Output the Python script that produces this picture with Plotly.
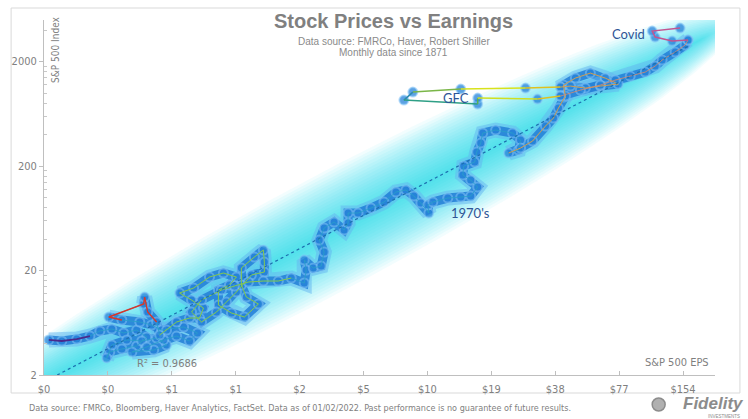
import numpy as np
import plotly.graph_objects as go

# ---------------- data ----------------
eps_1871_2007 = [0.158, 0.182, 0.214, 0.247, 0.275, 0.313, 0.356, 0.410, 0.457, 0.410,
                 0.349, 0.306, 0.296, 0.313, 0.368, 0.433, 0.509,
                 0.567, 0.493, 0.389, 0.457, 0.549, 0.632, 0.727, 0.793, 0.682,
                 0.537, 0.482, 0.424,
                 0.349, 0.303, 0.442, 0.447, 0.462, 0.509, 0.526, 0.567, 0.632, 0.727,
                 0.810, 0.846, 0.743, 0.653, 0.760, 0.903, 1.050, 1.209, 1.121, 0.995,
                 0.995, 1.146, 1.319, 1.534, 1.347, 1.276, 1.276, 1.469, 1.619, 1.637,
                 1.637, 1.422, 1.209, 1.085, 0.974, 0.828, 0.743, 0.828, 1.028, 1.183,
                 1.377, 1.619, 1.905, 2.192, 2.523, 2.578, 2.523, 2.781, 3.032, 3.132,
                 2.968, 3.132, 3.488, 3.888, 4.060, 4.060, 4.522, 5.207, 5.991, 6.822,
                 7.601, 8.286, 8.940, 9.748, 9.643, 10.18, 11.97, 13.78, 15.35, 16.56,
                 15.35, 14.08, 14.23, 16.03, 16.38, 17.11, 17.48, 20.12, 24.17, 26.36,
                 25.79, 23.15, 26.36, 30.02, 34.54, 37.66, 39.77, 42.89, 41.98, 47.77,
                 56.19, 66.09, 76.06, 62.60, 53.23, 45.27, 40.64]
price_1871_2007 = [4.33, 4.23, 4.42, 4.72, 5.28, 5.51, 5.05, 5.39, 4.62, 3.79,
                   3.55, 3.32, 2.91, 3.87, 4.33, 4.23, 4.52,
                   3.87, 3.47, 3.32, 3.71, 4.33, 4.72, 4.23, 5.05, 5.76,
                   5.39, 6.02, 6.43,
                   6.72, 7.18, 9.56, 11.15, 8.01, 6.43, 4.83, 5.39, 6.43, 7.02,
                   7.02, 8.75, 10.44, 12.18, 13.60, 17.33, 18.93, 17.33, 14.53, 13.02,
                   9.35, 7.84, 7.18, 9.56, 11.15, 14.53, 21.13, 26.93, 31.43, 24.12,
                   19.35, 18.11, 12.45, 9.99, 8.01, 6.43, 8.01, 10.44, 13.02, 14.21,
                   15.52, 15.87, 15.87, 16.95, 15.19, 20.22, 25.21, 21.13, 22.08, 30.07,
                   39.17, 51.04, 58.23, 48.84, 56.96, 71.00, 71.00, 79.27, 90.47, 112.8,
                   117.9, 103.3, 88.51, 71.00, 84.70, 90.47, 98.81, 101.0, 103.3, 125.9,
                   146.9, 164.0, 200.0, 218.5, 272.3, 332.0, 413.8, 442.1, 413.8, 354.6,
                   284.6, 266.4, 297.4, 347.0, 482.8, 576.0, 717.9, 935.1, 1192, 1390,
                   1552, 1390, 1218, 1166, 1115, 1166, 1140]

eps_gfc = [40.64, 27.82, 13.78, 8.197, 7.438, 16.56, 16.56, 31.68, 40.64]
price_gfc = [1140, 1115, 1091, 1021, 856.2, 784.0, 894.8, 875.3, 935.1]

eps_2010_2019 = [40.64, 50.43, 62.60, 73.63, 86.60, 101.9, 113.5, 122.4, 140.9, 157.0, 162.1]
price_2010_2019 = [935.1, 1067, 1192, 1330, 1453, 1587, 1811, 2068, 2466, 2877, 3213]

eps_covid = [162.1, 136.4, 113.5, 109.9, 148.7]
price_covid = [3213, 3143, 3432, 3917, 4184]

x_tick_vals = [0.15, 0.3, 0.6, 1.2, 2.4, 4.8, 9.6, 19.2, 38.4, 76.8, 153.6]
x_tick_text = ["$0", "$0", "$1", "$1", "$2", "$5", "$10", "$19", "$38", "$77", "$154"]
y_tick_vals = [2, 20, 200, 2000]
y_tick_text = ["2", "20", "200", "2000"]
y_minor_vals = [m * 10 ** n for n in range(0, 4) for m in (4, 6, 8, 10, 12, 14, 16, 18)]

trend_a = 12.8
trend_b = 1.059
trend_eps_span = [0.173, 166.0]
r_squared = 0.9686

x_range = [0.15, 217.2]
y_range = [2, 5000]

# ---------------- geometry / style ----------------
W, H = 748, 419
M_L, M_R, M_T, M_B = 42, 33, 20, 44
PLOT_W = W - M_L - M_R
PLOT_H = H - M_T - M_B
PX_DEC_X = PLOT_W / np.log10(x_range[1] / x_range[0])
PX_DEC_Y = PLOT_H / np.log10(y_range[1] / y_range[0])

GRAY = "#7f7f7f"
NARROW = "Liberation Sans Narrow, Arial Narrow, DejaVu Sans Condensed, sans-serif"
ARIAL = "Liberation Sans, Arial, sans-serif"
LABEL_FONT = "Lato, Open Sans, sans-serif"
LABEL_BLUE = "#2e5496"

fig = go.Figure()

# cyan glow band around the regression line
glow_span = [0.04, 287.0]
lo, hi = np.log10(glow_span)
cu, hu = (lo + hi) / 2, (hi - lo) / 2
N_LAYERS = 20
for i in range(N_LAYERS):
    s = 1 - i / N_LAYERS
    h = hu * (0.9 + 0.1 * s)
    u = np.linspace(cu - h, cu + h, 160)
    w = 0.62 * s * np.sqrt(np.clip(1 - ((u - cu) / h) ** 2, 0, None))
    e = 10 ** u
    ctr = trend_a * e ** trend_b
    xs = np.concatenate([e, e[::-1]])
    ys = np.concatenate([ctr * 10 ** w, (ctr / 10 ** w)[::-1]])
    fig.add_trace(go.Scatter(x=xs, y=ys, mode="lines", fill="toself",
                             fillcolor="rgba(0,215,240,0.05)", line=dict(width=0),
                             hoverinfo="skip", showlegend=False))


def with_breaks(eps, price, max_px=25):
    xs, ys = [eps[0]], [price[0]]
    for i in range(1, len(eps)):
        d = np.hypot(np.log10(eps[i] / eps[i - 1]) * PX_DEC_X,
                     np.log10(price[i] / price[i - 1]) * PX_DEC_Y)
        if d > max_px:
            xs.append(None)
            ys.append(None)
        xs.append(eps[i])
        ys.append(price[i])
    return xs, ys


HALO = "rgba(100,180,240,0.50)"
CORE = "rgba(34,126,214,0.85)"
MARK = "rgba(38,130,216,0.75)"

for ex, py in [(eps_1871_2007, price_1871_2007), (eps_2010_2019, price_2010_2019)]:
    bx, by = with_breaks(ex, py)
    fig.add_trace(go.Scatter(x=bx, y=by, mode="lines", line=dict(color=HALO, width=15),
                             hoverinfo="skip", showlegend=False))
    fig.add_trace(go.Scatter(x=bx, y=by, mode="lines", line=dict(color=CORE, width=9),
                             hoverinfo="skip", showlegend=False))


def thin(ex, py, i0, i1, color, width=1.3):
    fig.add_trace(go.Scatter(x=ex[i0:i1 + 1], y=py[i0:i1 + 1], mode="lines",
                             line=dict(color=color, width=width),
                             hoverinfo="skip", showlegend=False))


# markers on all series
for ex, py in [(eps_1871_2007, price_1871_2007), (eps_gfc, price_gfc),
               (eps_2010_2019, price_2010_2019), (eps_covid, price_covid)]:
    fig.add_trace(go.Scatter(x=ex, y=py, mode="markers",
                             marker=dict(size=9, color=MARK,
                                         line=dict(color="rgba(130,195,245,0.55)", width=2)),
                             hoverinfo="skip", showlegend=False))

# thin coloured connecting lines
e1, p1 = eps_1871_2007, price_1871_2007
thin(e1, p1, 0, len(e1) - 1, "rgba(40,160,200,0.8)", 1)
thin(e1, p1, 0, 3, "#4b2a8c", 1.8)
thin(e1, p1, 29, 34, "#d8352a", 1.4)
thin(e1, p1, 35, 72, "rgba(150,205,60,0.85)", 1)
thin(e1, p1, 110, len(e1) - 1, "rgba(227,154,74,0.9)", 1)
gfc_cols = ["#e0c020", "#d8e21c", "#7ab648", "#2e8bb0", "#2f9f86", "#58b050", "#cfdf22", "#e0c020"]
for i, col in enumerate(gfc_cols):
    thin(eps_gfc, price_gfc, i, i + 1, col, 1.5)
thin(eps_2010_2019, price_2010_2019, 0, len(eps_2010_2019) - 1, "rgba(217,138,106,0.8)", 1)
thin(eps_covid, price_covid, 0, len(eps_covid) - 1, "#c25591", 1.5)

# regression line
te = np.array(trend_eps_span)
fig.add_trace(go.Scatter(x=te, y=trend_a * te ** trend_b, mode="lines",
                         line=dict(color="#1c6fae", width=1.2, dash="dot"),
                         hoverinfo="skip", showlegend=False))


def px(xp):
    return (xp - M_L) / PLOT_W


def py_(yp):
    return (H - M_B - yp) / PLOT_H


ann = []
ann.append(dict(text="<b>Stock Prices vs Earnings</b>", x=px(393), y=py_(21),
                font=dict(size=20, color="#808080", family=ARIAL)))
ann.append(dict(text="Data source: FMRCo, Haver, Robert Shiller", x=px(393), y=py_(41),
                font=dict(size=10, color="#8a8a8a", family=ARIAL)))
ann.append(dict(text="Monthly data since 1871", x=px(393), y=py_(52),
                font=dict(size=10, color="#8a8a8a", family=ARIAL)))
ann.append(dict(text="S&P 500 Index", x=px(53), y=py_(50), textangle=-90,
                font=dict(size=10, color=GRAY, family=NARROW)))
ann.append(dict(text="S&P 500 EPS", x=px(677), y=py_(362),
                font=dict(size=11, color=GRAY, family=NARROW)))
ann.append(dict(text="R² = %.4f" % r_squared, x=px(165), y=py_(363),
                font=dict(size=11, color=GRAY, family=NARROW)))
ann.append(dict(text="GFC", x=px(455), y=py_(98),
                font=dict(size=13, color=LABEL_BLUE, family=LABEL_FONT)))
ann.append(dict(text="Covid", x=px(628), y=py_(34),
                font=dict(size=13, color=LABEL_BLUE, family=LABEL_FONT)))
ann.append(dict(text="1970's", x=px(470), y=py_(213),
                font=dict(size=13, color=LABEL_BLUE, family=LABEL_FONT)))
ann.append(dict(text="Data source: FMRCo, Bloomberg, Haver Analytics, FactSet. Data as of 01/02/2022. "
                     "Past performance is no guarantee of future results.",
                x=px(25), y=py_(408), xanchor="left",
                font=dict(size=9, color=GRAY, family=NARROW)))
ann.append(dict(text="<b><i>Fidelity</i></b>", x=px(745), y=py_(404), xanchor="right",
                font=dict(size=17, color="#8c8c8c", family=ARIAL)))
ann.append(dict(text="INVESTMENTS", x=px(741), y=py_(416.5), xanchor="right",
                font=dict(size=4.5, color="#8c8c8c", family=ARIAL)))
for a in ann:
    a.setdefault("xanchor", "center")
    a.update(xref="paper", yref="paper", yanchor="middle", showarrow=False)
# tighter boxes for the small logo texts
ann[-1].update(borderpad=0)
ann[-2].update(borderpad=0)

shapes = [
    dict(type="rect", xref="paper", yref="paper", x0=px(9), x1=px(740), y0=py_(393), y1=py_(8),
         line=dict(color="#d9d9d9", width=1), layer="below"),
    dict(type="circle", xref="paper", yref="paper", x0=px(652), x1=px(665), y0=py_(411), y1=py_(398),
         line=dict(color="#8c8c8c", width=1.5), fillcolor="#b0b0b0"),
]

fig.update_layout(
    width=W, height=H, autosize=False,
    margin=dict(l=M_L, r=M_R, t=M_T, b=M_B),
    paper_bgcolor="white", plot_bgcolor="white",
    showlegend=False,
    annotations=ann, shapes=shapes,
    xaxis=dict(type="log", range=list(np.log10(x_range)), tickvals=x_tick_vals, ticktext=x_tick_text,
               showgrid=False, zeroline=False, showline=True, linecolor="#bfbfbf", linewidth=1,
               ticks="inside", ticklen=4, tickcolor="#bfbfbf", ticklabelstandoff=4,
               tickfont=dict(size=11, color=GRAY, family=NARROW)),
    yaxis=dict(type="log", range=list(np.log10(y_range)), tickvals=y_tick_vals, ticktext=y_tick_text,
               showgrid=False, zeroline=False, showline=True, linecolor="#bfbfbf", linewidth=1,
               ticks="outside", ticklen=4, tickcolor="#bfbfbf",
               minor=dict(tickvals=y_minor_vals, ticks="inside", ticklen=3, tickcolor="#c8c8c8"),
               tickfont=dict(size=11, color=GRAY, family=NARROW)),
)

fig.write_html("out.html", config={"displayModeBar": False},
               post_script="document.body.style.margin='0';document.body.style.overflow='hidden';")
